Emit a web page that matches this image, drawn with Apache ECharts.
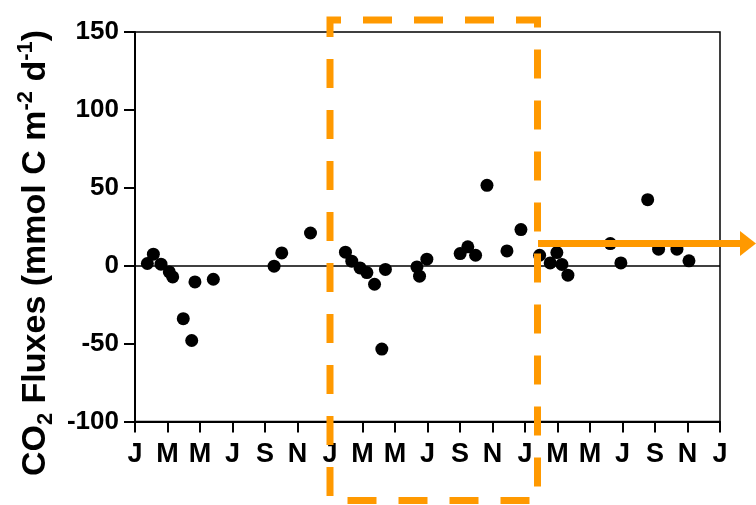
<!DOCTYPE html>
<html>
<head>
<meta charset="utf-8">
<script src="https://cdn.jsdelivr.net/npm/echarts@6/dist/echarts.min.js"></script>
<style>
  html, body { margin: 0; padding: 0; background: #fff; }
  #chart { width: 756px; height: 505px; }
</style>
</head>
<body>
<div id="chart"></div>
<script>
// month position since Jan of first year (0..36)
const monthPos = [0.76, 1.13, 1.6, 2.11, 2.32, 2.97, 3.49, 3.69, 4.82, 8.56, 9.03, 10.8,
  12.95, 13.34, 13.85, 14.27, 14.74, 15.19, 15.41, 17.35, 17.51, 17.96, 20.01, 20.48, 20.96, 21.66, 22.89, 23.75,
  24.9, 25.55, 25.96, 26.27, 26.64, 29.25, 29.9, 31.55, 32.22, 33.35, 34.09]
// CO2 flux, mmol C m-2 d-1
const flux = [1.4, 7.4, 1, -4, -7.2, -34, -48, -10.4, -8.7, -0.3, 8.2, 21,
  8.7, 2.9, -1.4, -4.4, -11.9, -53.5, -2.4, -0.8, -6.7, 4.2, 7.8, 12.1, 6.7, 51.6, 9.5, 23.2,
  6.7, 1.8, 8.4, 0.8, -6.1, 14.2, 1.8, 42.4, 10.6, 10.6, 3.1]
const monthLabels = ['J', 'M', 'M', 'J', 'S', 'N', 'J', 'M', 'M', 'J', 'S', 'N', 'J', 'M', 'M', 'J', 'S', 'N', 'J']

const font = 'Liberation Sans, Arial, Helvetica, sans-serif'
const orange = '#FF9900'

const chart = echarts.init(document.getElementById('chart'))
chart.setOption({
  animation: false,
  backgroundColor: '#fff',
  grid: {
    left: 135,
    right: 36,
    top: 32,
    bottom: 83.5,
    show: true,
    borderColor: '#000',
    borderWidth: 1.5,
    outerBoundsMode: 'none'
  },
  xAxis: {
    type: 'value',
    min: 0,
    max: 36,
    interval: 2,
    axisLine: { onZero: false, lineStyle: { color: '#000', width: 2 }},
    axisTick: { length: 11, lineStyle: { color: '#000', width: 2 }},
    splitLine: { show: false },
    axisLabel: {
      color: '#000',
      fontFamily: font,
      fontWeight: 'bold',
      fontSize: 27,
      margin: 20,
      formatter: function(v) {
        return monthLabels[Math.round(v / 2)]
      }
    }
  },
  yAxis: {
    type: 'value',
    min: -100,
    max: 150,
    interval: 50,
    axisLine: { show: true, onZero: false, lineStyle: { color: '#000', width: 2 }},
    axisTick: { show: true, length: 11, lineStyle: { color: '#000', width: 2 }},
    splitLine: { show: false },
    axisLabel: {
      color: '#000',
      fontFamily: font,
      fontWeight: 'bold',
      fontSize: 26,
      margin: 16
    }
  },
  series: [
    {
      type: 'scatter',
      symbol: 'circle',
      symbolSize: 13,
      itemStyle: { color: '#000', opacity: 1 },
      data: monthPos.map((m, i) => [m, flux[i]]),
      markLine: {
        silent: true,
        symbol: 'none',
        label: { show: false },
        lineStyle: { color: '#000', width: 1.5, type: 'solid' },
        data: [{ yAxis: 0 }]
      },
      z: 3
    }
  ],
  graphic: [
    {
      type: 'text',
      x: 36,
      y: 253,
      rotation: Math.PI / 2,
      style: {
        text: '{a|CO}{sub|2}{a| Fluxes (mmol C m}{sup|-2}{a| d}{sup|-1}{a|)}',
        align: 'center',
        verticalAlign: 'middle',
        fill: '#000',
        rich: {
          a: { fontFamily: font, fontWeight: 'bold', fontSize: 34, lineHeight: 42, verticalAlign: 'middle' },
          sup: { fontFamily: font, fontWeight: 'bold', fontSize: 22, lineHeight: 22, verticalAlign: 'top' },
          sub: { fontFamily: font, fontWeight: 'bold', fontSize: 22, lineHeight: 22, verticalAlign: 'bottom' }
        }
      }
    },
    {
      type: 'rect',
      shape: { x: 330, y: 20, width: 207.5, height: 480.5 },
      style: { fill: null, stroke: orange, lineWidth: 7, lineDash: [29, 22], lineDashOffset: 18 },
      z: 10
    },
    {
      type: 'line',
      shape: { x1: 538, y1: 243.5, x2: 742, y2: 243.5 },
      style: { stroke: orange, lineWidth: 7 },
      z: 10
    },
    {
      type: 'polygon',
      shape: { points: [[740, 231], [756, 243.5], [740, 256]] },
      style: { fill: orange },
      z: 10
    }
  ]
})
</script>
</body>
</html>
